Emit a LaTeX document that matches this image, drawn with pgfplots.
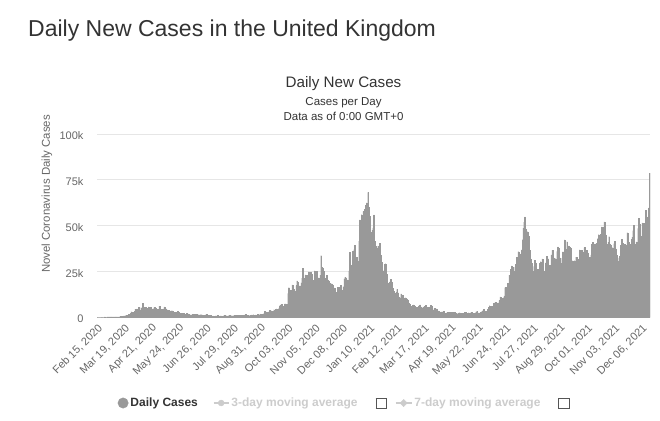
\documentclass[border=0pt]{standalone}
\usepackage{pgfplots}
\usepackage{pgfplotstable}
\pgfplotsset{compat=1.18}
\usepackage{fontspec}
\setmainfont{Liberation Sans}
\definecolor{barg}{HTML}{999999}
\definecolor{gridc}{HTML}{E6E6E6}
\definecolor{tickc}{HTML}{666666}
\definecolor{titlec}{HTML}{333333}
\definecolor{hidec}{HTML}{CCCCCC}
\definecolor{boxc}{HTML}{555555}
\newcommand{\cbox}{{\setlength{\fboxsep}{0pt}\setlength{\fboxrule}{0.9pt}\color{boxc}\raisebox{-1.5pt}{\fbox{\rule{0pt}{9.5pt}\rule{9.5pt}{0pt}}}}}
% daily new cases in thousands; one row per week, Saturday..Friday, first row = week of Feb 15, 2020
\pgfplotstableread{
sat sun mon tue wed thu fri
0 0 0 0 0 0 0
0 0 0.004 0 0 0.003 0.006
0.003 0.012 0.004 0.013 0.011 0.034 0.048
0.043 0.067 0.048 0.054 0.087 0.134 0.208
0.342 0.251 0.152 0.407 0.676 0.643 0.714
1.035 0.665 0.967 1.427 1.452 2.129 2.885
2.546 2.433 2.619 3.009 4.324 4.244 4.450
3.735 5.2 3.802 3.634 5.1 4.344 7.5
5.234 5.288 4.342 5.252 4.603 4.617 5.599
5.0 5.3 4.4 4.3 4.4 4.6 5.4
4.9 4.4 4.3 4.0 4.1 5.9 4.8
4.3 4.3 3.9 4.4 5.6 5.2 4.6
3.9 3.9 3.8 3.4 3.2 3.4 3.5
3.4 2.7 2.4 2.5 2.6 2.6 3.2
2.9 1.6 1.6 2.0 2.0 1.9 2.1
1.9 1.6 1.6 1.9 1.8 1.7 1.6
1.3 1.2 1.1 1.4 1.0 1.3 1.5
1.4 1.5 1.1 1.3 1.1 1.2 1.3
1.3 1.2 0.96 0.87 0.65 1.1 1.4
0.89 0.9 0.82 0.69 0.83 0.58 0.54
0.62 0.52 0.35 0.58 0.63 0.64 0.82
0.65 0.53 0.65 0.6 0.54 0.46 0.69
0.83 0.58 0.73 0.45 0.56 0.77 0.8
0.77 0.74 0.69 0.58 0.76 0.85 0.88
0.74 0.74 0.94 0.67 0.89 0.95 0.87
0.76 1.06 0.82 1.15 1.01 1.44 1.01
1.08 0.73 0.71 1.09 0.81 1.18 1.03
1.29 1.04 0.85 1.18 1.05 1.52 1.28
1.11 1.72 1.41 1.3 1.51 1.74 1.94
2.99 2.95 2.46 2.42 2.66 2.92 3.54
3.5 3.33 2.62 3.11 3.99 3.4 4.32
4.42 3.9 4.37 4.93 6.18 6.63 6.87
6.04 5.69 4.04 7.14 7.11 6.91 6.97
12.9 16.0 12.6 14.5 14.2 17.5 13.9
15.2 12.9 13.97 17.2 19.7 18.98 15.65
16.98 16.98 18.8 21.3 26.7 21.2 20.5
23.0 19.8 20.9 22.9 24.7 23.1 24.4
21.9 23.3 18.95 20.0 25.2 24.1 23.3
24.96 20.6 21.4 20.4 22.95 33.5 27.3
26.9 24.96 21.4 20.0 19.6 22.9 20.3
19.9 18.66 15.45 11.3 18.2 17.6 16.0
15.9 12.2 13.4 12.3 16.2 14.9 16.3
15.5 17.3 14.7 12.3 16.6 20.96 21.7
21.5 18.4 20.3 18.5 25.2 35.4 28.5
27.1 35.9 33.4 36.8 39.2 32.7 32.7
30.5 30.5 41.4 53.1 50.0 55.9 53.3
57.7 54.9 58.8 60.9 62.3 52.6 68.05
59.9 54.9 46.2 45.5 47.5 48.7 55.8
41.3 38.6 37.5 33.4 38.9 37.9 40.3
33.6 30.0 22.2 20.1 25.3 28.7 29.1
23.3 21.1 18.6 16.8 19.2 20.6 19.1
18.3 15.8 14.1 12.4 13.0 13.5 15.1
13.3 10.97 9.77 10.6 12.7 12.1 12.0
10.4 9.8 10.6 8.5 9.9 9.0 7.4
7.3 6.0 5.5 4.7 6.4 6.6 6.0
5.2 5.2 5.4 4.7 5.9 6.3 6.6
5.5 4.6 5.1 5.3 5.8 5.4 6.3
5.6 5.3 5.3 5.4 5.6 6.4 6.2
3.9 3.9 4.7 4.1 4.1 4.5 3.4
3.4 2.3 2.8 2.4 2.8 2.8 3.0
2.6 1.7 1.9 2.3 2.5 2.7 2.6
2.6 1.9 2.5 2.1 2.4 2.7 2.6
2.0 1.7 1.7 2.1 2.2 2.4 2.1
1.9 1.7 1.6 1.9 2.6 2.5 2.4
2.0 1.8 2.4 2.0 2.3 2.7 2.2
2.0 1.9 2.0 2.4 2.9 3.2 2.3
2.2 1.8 2.5 2.5 3.2 3.5 4.2
3.4 3.2 3.2 3.2 4.3 5.3 6.2
5.8 5.3 5.7 6.0 7.5 7.4 8.1
7.7 7.5 7.7 7.7 9.1 11.0 10.5
10.3 9.3 10.6 11.6 16.1 16.1 15.8
18.3 14.9 22.9 20.5 26.1 27.9 27.1
24.9 24.2 27.3 28.8 32.5 32.6 35.7
32.4 31.8 34.5 36.7 42.3 48.6 51.9
54.7 48.2 39.95 46.6 44.1 39.9 36.4
31.8 29.2 24.95 23.5 27.7 31.1 29.6
24.5 26.1 21.95 21.7 29.3 30.2 27.3
31.8 26.75 25.2 23.5 29.6 33.1 29.5
31.9 26.75 28.4 26.85 33.9 36.6 32.1
32.3 31.9 31.9 30.8 35.8 38.3 37.6
32.4 29.5 26.5 32.2 35.7 32.2 42.1
37.0 37.0 41.2 37.5 38.9 38.0 37.6
29.5 29.5 30.8 26.6 30.8 26.9 32.7
32.7 29.6 31.6 36.7 34.5 35.6 36.6
35.7 32.4 37.96 34.5 36.5 36.5 35.0
30.3 32.6 30.4 33.9 39.8 40.7 39.7
34.5 39.9 38.5 40.2 42.8 45.0 44.9
43.4 45.1 49.2 43.7 49.1 52.0 50.0
44.9 39.96 36.6 40.95 43.9 39.9 39.3
31.4 37.9 33.9 40.1 41.3 37.3 34.0
30.7 30.3 32.3 33.1 39.3 42.4 40.4
37.1 36.5 39.7 37.6 39.3 46.1 42.3
40.9 40.0 36.6 42.5 43.7 47.2 50.1
40.0 37.7 41.0 39.7 48.4 53.9 50.6
42.6 43.99 51.5 45.7 51.3 50.9 58.2
54.1 48.9 54.7 59.6 78.6 nan nan
}\cases
\begin{document}
\begin{tikzpicture}[x=1pt,y=1pt]
\path[use as bounding box] (0,0) rectangle (660,420);
\node[anchor=base west, inner sep=0, font=\fontsize{23}{27}\selectfont, text=titlec] at (28,383.3) {Daily New Cases in the United Kingdom};
\node[anchor=base, inner sep=0, font=\fontsize{15.2}{18}\selectfont, text=titlec] at (343.5,332.5) {Daily New Cases};
\node[anchor=base, inner sep=0, font=\fontsize{11.5}{14}\selectfont, text=titlec] at (343.5,314.3) {Cases per Day};
\node[anchor=base, inner sep=0, font=\fontsize{11.5}{14}\selectfont, text=titlec] at (343.5,299.3) {Data as of 0:00 GMT+0};
\node[rotate=90, inner sep=0, font=\fontsize{11.4}{14}\selectfont, text=tickc] at (47,226) {Novel Coronavirus Daily Cases};
\begin{axis}[
  at={(97pt,103pt)}, anchor=south west,
  scale only axis, width=553pt, height=183pt,
  xmin=-0.5, xmax=669.5, ymin=0, ymax=100,
  axis line style={draw=none},
  major tick length=0pt,
  ymajorgrids, grid style={draw=gridc, line width=0.8pt},
  ytick={0,25,50,75,100},
  yticklabels={0,25k,50k,75k,100k},
  yticklabel style={font=\fontsize{11}{13}\selectfont, text=tickc, anchor=east, xshift=-10pt, yshift=-2pt},
  xtick={0,33,...,660},
  xticklabels={{Feb 15, 2020},{Mar 19, 2020},{Apr 21, 2020},{May 24, 2020},{Jun 26, 2020},{Jul 29, 2020},{Aug 31, 2020},{Oct 03, 2020},{Nov 05, 2020},{Dec 08, 2020},{Jan 10, 2021},{Feb 12, 2021},{Mar 17, 2021},{Apr 19, 2021},{May 22, 2021},{Jun 24, 2021},{Jul 27, 2021},{Aug 29, 2021},{Oct 01, 2021},{Nov 03, 2021},{Dec 06, 2021}},
  xticklabel style={font=\fontsize{11}{13}\selectfont, text=tickc, rotate=45, anchor=east, yshift=-9pt, xshift=-1pt},
  legend columns=3,
  legend style={at={(0.448,-0.47)}, anchor=center, draw=none, fill=none,
    font=\fontsize{12}{14}\selectfont\bfseries,
    /tikz/every even column/.append style={column sep=0pt}},
]
\addplot[ybar, bar width=1, bar shift=0pt, fill=barg, draw=barg, line width=0.15pt, forget plot] table[x expr=7*\coordindex+0, y=sat]{\cases};
\addplot[ybar, bar width=1, bar shift=0pt, fill=barg, draw=barg, line width=0.15pt, forget plot] table[x expr=7*\coordindex+1, y=sun]{\cases};
\addplot[ybar, bar width=1, bar shift=0pt, fill=barg, draw=barg, line width=0.15pt, forget plot] table[x expr=7*\coordindex+2, y=mon]{\cases};
\addplot[ybar, bar width=1, bar shift=0pt, fill=barg, draw=barg, line width=0.15pt, forget plot] table[x expr=7*\coordindex+3, y=tue]{\cases};
\addplot[ybar, bar width=1, bar shift=0pt, fill=barg, draw=barg, line width=0.15pt, forget plot] table[x expr=7*\coordindex+4, y=wed]{\cases};
\addplot[ybar, bar width=1, bar shift=0pt, fill=barg, draw=barg, line width=0.15pt, forget plot] table[x expr=7*\coordindex+5, y=thu]{\cases};
\addplot[ybar, bar width=1, bar shift=0pt, fill=barg, draw=barg, line width=0.15pt, forget plot] table[x expr=7*\coordindex+6, y=fri]{\cases};
\addlegendimage{legend image code/.code={\fill[barg] (5pt,0pt) circle (5.2pt);}}
\addlegendentry{\textcolor{titlec}{Daily Cases}\rule{13pt}{0pt}}
\addlegendimage{legend image code/.code={\draw[hidec, line width=1.6pt] (0pt,0pt) -- (15pt,0pt); \fill[hidec] (7.5pt,0pt) circle (3pt);}}
\addlegendentry{\textcolor{hidec}{3-day moving average}\hspace{18pt}\cbox\rule{6pt}{0pt}}
\addlegendimage{legend image code/.code={\draw[hidec, line width=1.6pt] (0pt,0pt) -- (16pt,0pt); \fill[hidec] (8pt,3.6pt) -- (11.6pt,0pt) -- (8pt,-3.6pt) -- (4.4pt,0pt) -- cycle;}}
\addlegendentry{\textcolor{hidec}{7-day moving average}\hspace{18pt}\cbox}
\end{axis}
\end{tikzpicture}
\end{document}
